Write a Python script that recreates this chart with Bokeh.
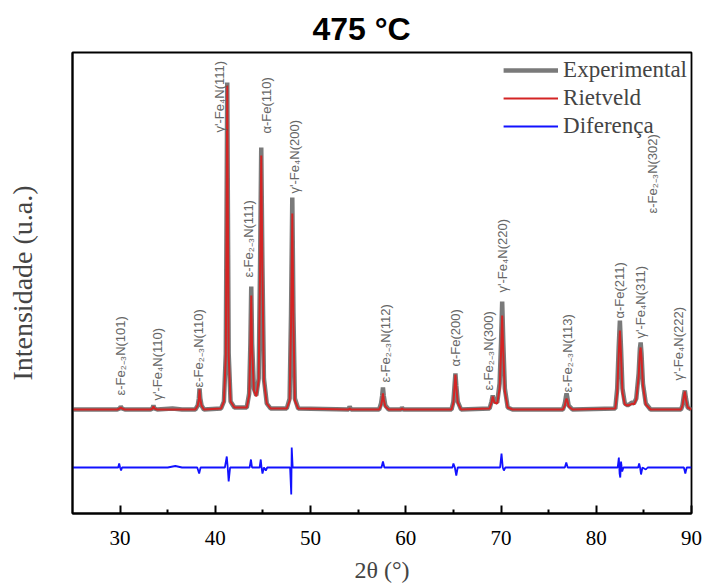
import math
from bokeh.plotting import figure
from bokeh.models import Range1d, FixedTicker, Legend, LegendItem
from bokeh.core.properties import value
from bokeh.embed import file_html
from bokeh.resources import INLINE

# ---------------- data (arbitrary intensity units) ----------------
exp_x = [25.0, 29.7, 29.95, 30.07, 30.2, 30.5, 33.2, 33.4, 33.5, 33.6, 33.9, 35.5, 36.5,
         37.9, 38.15, 38.27, 38.34, 38.42, 38.55, 38.8, 40.6, 40.9, 41.1, 41.18, 41.25, 41.32,
         41.4, 41.6, 42.0, 43.3, 43.55, 43.68, 43.77, 43.86, 44.05, 44.3, 44.55, 44.7, 44.82,
         44.94, 45.1, 45.4, 45.8, 47.5, 47.8, 47.95, 48.08, 48.2, 48.35, 48.7, 54.0, 54.1,
         54.25, 57.2, 57.4, 57.52, 57.6, 57.68, 57.85, 58.2, 59.5, 59.6, 59.75, 64.8, 65.0,
         65.12, 65.21, 65.3, 65.45, 65.8, 68.8, 69.0, 69.13, 69.3, 69.6, 69.85, 70.0, 70.12,
         70.24, 70.4, 70.7, 71.2, 76.5, 76.7, 76.8, 76.88, 76.96, 77.1, 77.5, 82.0, 82.2,
         82.35, 82.48, 82.6, 82.75, 83.0, 83.3, 83.6, 83.78, 83.95, 84.2, 84.45, 84.58, 84.66,
         84.75, 84.9, 85.2, 85.7, 88.9, 89.05, 89.2, 89.3, 89.42, 89.6, 90.0]
exp_y = [104, 104, 105, 107, 105, 104, 104, 105, 108, 105, 104, 105, 104,
         104, 108, 115, 125, 115, 108, 104, 105, 112, 160, 300, 431, 300,
         160, 112, 106, 106, 120, 170, 227, 170, 125, 118, 135, 250, 366,
         250, 135, 110, 105, 105, 115, 200, 316, 200, 115, 105, 104, 107,
         104, 104, 110, 118, 126, 118, 108, 104, 104, 106, 104, 104, 112,
         128, 140, 128, 112, 104, 105, 112, 118, 112, 111, 130, 170, 212,
         170, 125, 106, 104, 104, 110, 116, 120, 116, 108, 104, 105, 125,
         165, 193, 165, 125, 110, 108, 110, 111, 110, 115, 140, 165, 171,
         160, 130, 110, 104, 104, 108, 118, 123, 115, 106, 104]
fit_y = [104, 104, 105, 106, 105, 104, 104, 105, 107, 105, 104, 104, 104,
         104, 108, 114, 124, 114, 108, 104, 105, 112, 158, 296, 428, 296,
         158, 112, 106, 106, 118, 165, 218, 165, 123, 117, 133, 243, 358,
         243, 133, 110, 105, 105, 113, 190, 300, 190, 113, 105, 104, 105,
         104, 104, 108, 114, 120, 114, 107, 104, 104, 105, 104, 104, 111,
         127, 139, 127, 111, 104, 105, 111, 117, 111, 110, 125, 160, 198,
         160, 122, 106, 104, 104, 108, 113, 115, 113, 107, 104, 105, 121,
         158, 183, 158, 121, 109, 108, 109, 110, 109, 114, 137, 161, 166,
         156, 128, 109, 104, 104, 108, 117, 122, 114, 106, 104]

diff_x = [25.0, 29.8, 29.9, 30.0, 30.1, 30.2, 35.0, 35.8, 36.5, 38.1, 38.3, 38.45, 41.0,
          41.2, 41.3, 41.4, 41.55, 43.6, 43.74, 43.85, 44.65, 44.77, 44.85, 44.95, 45.1,
          45.3, 45.45, 47.85, 47.97, 48.02, 48.12, 57.45, 57.6, 57.75, 64.9, 65.0, 65.15,
          65.3, 65.45, 69.9, 70.05, 70.18, 70.3, 70.45, 76.7, 76.85, 77.0, 82.25, 82.37,
          82.45, 82.52, 82.6, 82.72, 82.85, 84.4, 84.5, 84.6, 84.7, 84.85, 85.2, 85.4,
          89.2, 89.35, 89.5, 90.0]
diff_y = [46, 46, 50, 46, 43, 46, 46, 47.5, 46, 46, 40, 46, 46,
          57, 46, 32, 46, 46, 54, 46, 46, 54, 46, 40, 46,
          43, 46, 46, 19, 66, 46, 46, 52, 46, 46, 50, 46,
          38, 46, 46, 60, 46, 43, 46, 46, 51, 46, 46, 56,
          40, 36, 52, 42, 46, 46, 50, 46, 39, 46, 44, 46,
          46, 40, 46, 46]

lab_text = ["ε-Fe₂₋₃N(101)", "γ'-Fe₄N(110)", "ε-Fe₂₋₃N(110)", "γ'-Fe₄N(111)",
            "ε-Fe₂₋₃N(111)", "α-Fe(110)", "γ'-Fe₄N(200)", "ε-Fe₂₋₃N(112)", "α-Fe(200)",
            "ε-Fe₂₋₃N(300)", "γ'-Fe₄N(220)", "ε-Fe₂₋₃N(113)", "α-Fe(211)", "γ'-Fe₄N(311)",
            "ε-Fe₂₋₃N(302)", "γ'-Fe₄N(222)"]
lab_x = [30.07, 33.9, 38.2, 40.4, 43.5, 45.35, 48.3, 57.85, 65.2, 68.7, 70.15, 77.0,
         82.45, 84.66, 85.95, 88.65]
lab_y = [118, 113, 126, 381, 236, 380, 320, 131, 147, 123, 221, 121, 195, 175, 300, 133]

x_ticks = [30, 40, 50, 60, 70, 80, 90]
x_minor = [35, 45, 55, 65, 75, 85]

# ---------------- figure ----------------
p = figure(width=703, height=588, output_backend="svg", toolbar_location=None,
           x_range=Range1d(25, 90), y_range=Range1d(0, 461),
           min_border_left=72, min_border_right=12, min_border_top=52, min_border_bottom=75,
           title="475 °C")
p.background_fill_color = "white"
p.border_fill_color = "white"
p.outline_line_color = "black"
p.outline_line_width = 1.8
p.grid.visible = False

p.title.text_font = "Liberation Sans"
p.title.text_font_size = "32px"
p.title.text_font_style = "bold"
p.title.align = "left"
p.title.offset = 240
p.title.standoff = 12
p.title.text_color = "black"

xa = p.xaxis[0]
xa.ticker = FixedTicker(ticks=x_ticks, minor_ticks=x_minor)
xa.major_tick_in = 8
xa.major_tick_out = 0
xa.minor_tick_in = 4
xa.minor_tick_out = 0
xa.major_tick_line_width = 2
xa.minor_tick_line_width = 2
xa.axis_line_width = 2
xa.major_label_text_font = "Liberation Serif"
xa.major_label_text_font_size = "21px"
xa.major_label_text_color = "black"
xa.major_label_standoff = 17
xa.axis_label = "2θ (°)"
xa.axis_label_text_font = "Liberation Serif"
xa.axis_label_text_font_size = "24px"
xa.axis_label_text_font_style = "normal"
xa.axis_label_standoff = 9

ya = p.yaxis[0]
ya.ticker = FixedTicker(ticks=[])
ya.major_tick_in = 0
ya.major_tick_out = 0
ya.minor_tick_in = 0
ya.minor_tick_out = 0
ya.major_label_text_font_size = "0px"
ya.axis_line_width = 2
ya.axis_label = "Intensidade (u.a.)"
ya.axis_label_text_font = "Liberation Serif"
ya.axis_label_text_font_size = "28px"
ya.axis_label_text_font_style = "normal"
ya.axis_label_standoff = 35

r_exp = p.line(exp_x, exp_y, line_color="#7a7a7a", line_width=4.5)
r_fit = p.line(exp_x, fit_y, line_color="#d42424", line_width=2)
r_dif = p.line(diff_x, diff_y, line_color="#1212ff", line_width=1.8)

p.text(x=lab_x, y=lab_y, text=lab_text, angle=math.pi / 2,
       text_align="left", text_baseline="middle",
       text_font=value("Liberation Sans"), text_font_size="13px", text_color="#666666")

legend = Legend(items=[LegendItem(label="Experimental", renderers=[r_exp]),
                       LegendItem(label="Rietveld", renderers=[r_fit]),
                       LegendItem(label="Diferença", renderers=[r_dif])],
                location="top_right", margin=0, padding=4, spacing=0,
                glyph_width=55, glyph_height=28, label_height=28, label_standoff=5,
                label_text_font="Liberation Serif", label_text_font_size="23px",
                border_line_alpha=0, background_fill_alpha=0)
p.add_layout(legend)

open("out.html", "w").write(file_html(p, INLINE))
